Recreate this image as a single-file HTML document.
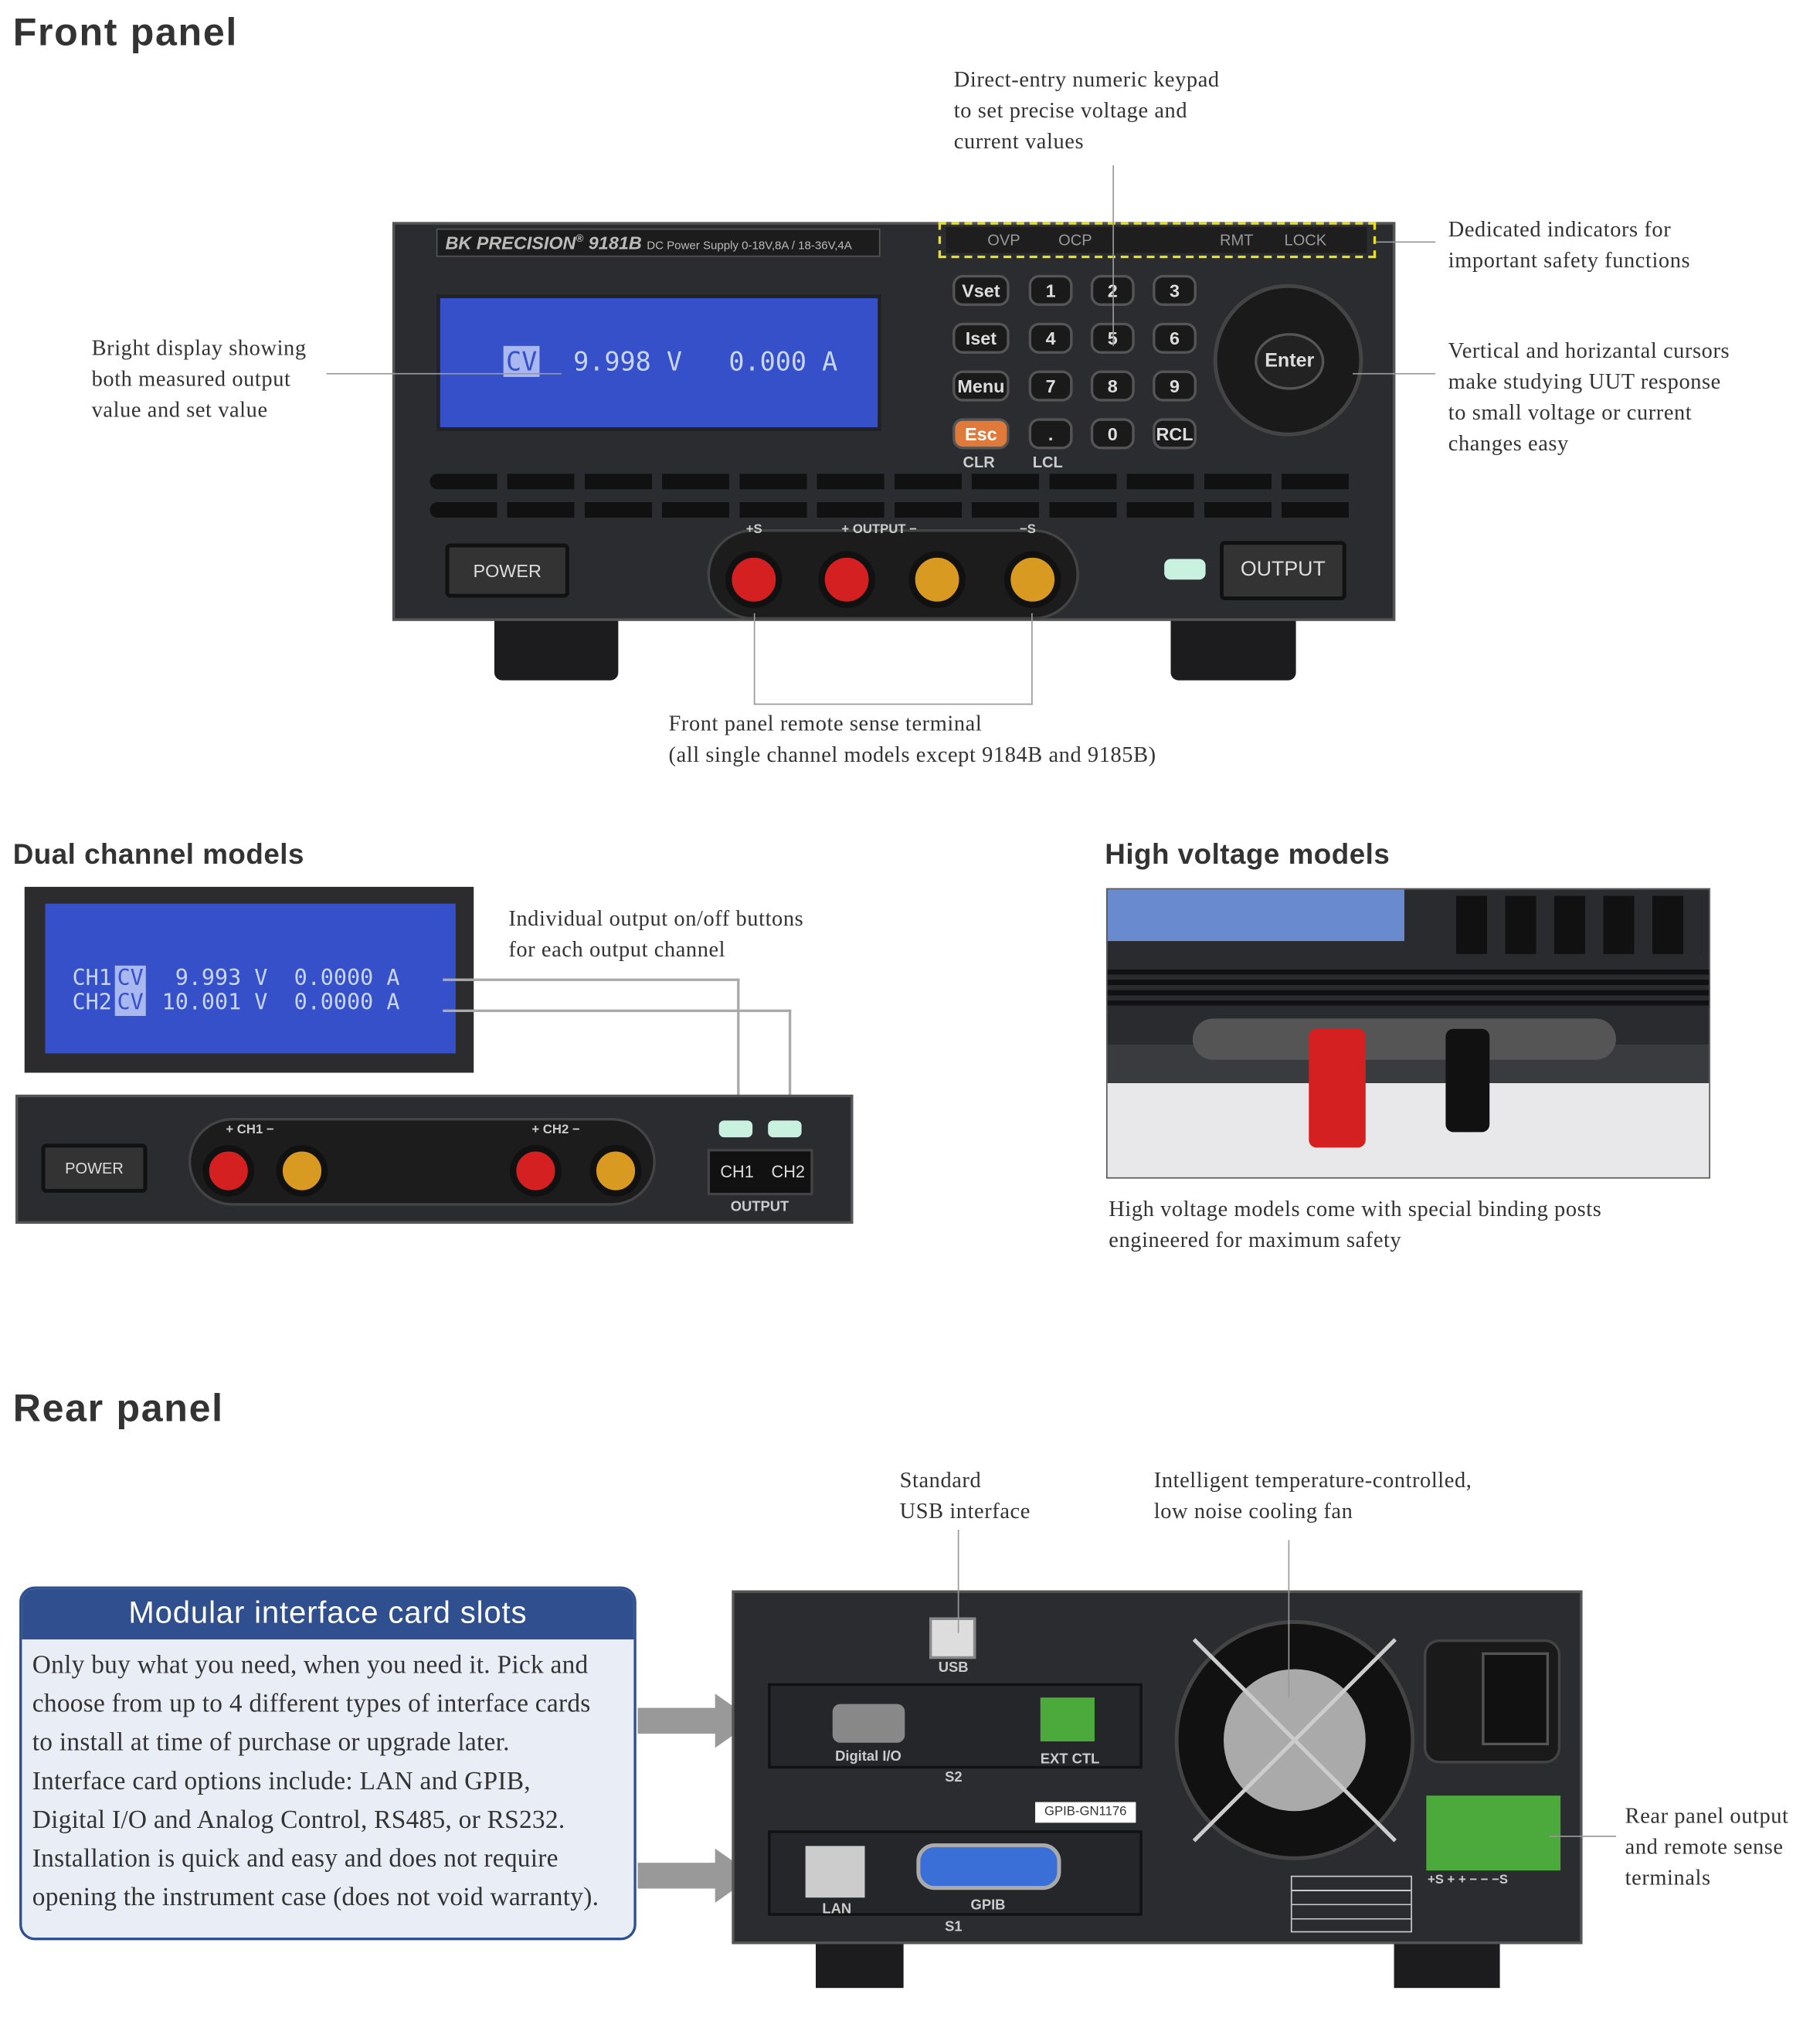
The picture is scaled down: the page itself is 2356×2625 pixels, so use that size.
<!DOCTYPE html>
<html><head><meta charset="utf-8"><style>
*{margin:0;padding:0;box-sizing:border-box}
html,body{width:2356px;height:2624px;background:#fff;overflow:hidden}
#w{position:absolute;left:0;top:0;width:1410px;height:1571px;transform:scale(1.6709);transform-origin:0 0;font-family:"Liberation Serif",serif;color:#333}
.a{position:absolute}
.h{font-family:"Liberation Sans",sans-serif;font-weight:bold;color:#333}
.t{font-size:17px;line-height:24px;color:#333;letter-spacing:0.35px;white-space:nowrap}
.ln{position:absolute;background:#999}
.dev{background:#2b2c2f;border:2px solid #555}
.k{position:absolute;width:34px;height:24px;border-radius:8px;background:#1a1a1a;border:2px solid #555;color:#ddd;font:bold 14px "Liberation Sans",sans-serif;text-align:center;line-height:20px}
.lab{position:absolute;color:#ccc;font:bold 12px "Liberation Sans",sans-serif;white-space:nowrap}
.vent{position:absolute;height:12px;border-radius:6px;background:#111}
.post{position:absolute;width:44px;height:44px;border-radius:50%;border:5px solid #111}
.lcd{font-family:"DejaVu Sans Mono",monospace;color:#c9d6ff;white-space:pre}
.cv{background:#a9b8f0;color:#3550c8;padding:0 2px;margin:0 2px}
</style></head><body><div id="w">

<div class="a h" style="left:10px;top:9px;font-size:30px;letter-spacing:1px">Front panel</div>

<div class="a" style="left:383px;top:478px;width:96px;height:49px;background:#1c1c1e;border-radius:0 0 6px 6px"></div>
<div class="a" style="left:907px;top:478px;width:97px;height:49px;background:#1c1c1e;border-radius:0 0 6px 6px"></div>
<div class="a dev" style="left:304px;top:172px;width:777px;height:309px"></div>
<div class="a" style="left:338px;top:177px;width:344px;height:22px;background:#1c1c1c;border:1px solid #555;color:#bbb;font:italic bold 14px 'Liberation Sans',sans-serif;padding:2px 6px;white-space:nowrap;overflow:hidden">BK PRECISION<sup style="font-size:8px">®</sup> 9181B <span style="font:9px 'Liberation Sans',sans-serif;font-style:normal">DC Power Supply 0-18V,8A / 18-36V,4A</span></div>
<div class="a" style="left:338px;top:228px;width:345px;height:106px;background:#3550c8;border:3px solid #222"></div>
<div class="a lcd" style="left:388px;top:268px;font-size:20px"><span class="cv">CV</span>  9.998 V   0.000 A</div>
<div class="a" style="left:727px;top:172px;width:339px;height:28px;border:2px dashed #e6df2a"></div>
<div class="a" style="left:733px;top:176px;width:326px;height:20px;background:#1e1e1e;color:#999;font:12px 'Liberation Sans',sans-serif;line-height:20px;white-space:nowrap">
<span class="a" style="left:32px">OVP</span><span class="a" style="left:87px">OCP</span><span class="a" style="left:212px">RMT</span><span class="a" style="left:262px">LOCK</span></div>
<div class="k" style="left:738px;top:213px;width:44px">Vset</div>
<div class="k" style="left:738px;top:250px;width:44px">Iset</div>
<div class="k" style="left:738px;top:287px;width:44px">Menu</div>
<div class="k" style="left:738px;top:324px;width:44px;background:#e07a3a;color:#fff">Esc</div>
<div class="k" style="left:797px;top:213px">1</div><div class="k" style="left:845px;top:213px">2</div><div class="k" style="left:893px;top:213px">3</div>
<div class="k" style="left:797px;top:250px">4</div><div class="k" style="left:845px;top:250px">5</div><div class="k" style="left:893px;top:250px">6</div>
<div class="k" style="left:797px;top:287px">7</div><div class="k" style="left:845px;top:287px">8</div><div class="k" style="left:893px;top:287px">9</div>
<div class="k" style="left:797px;top:324px">.</div><div class="k" style="left:845px;top:324px">0</div><div class="k" style="left:893px;top:324px">RCL</div>
<div class="lab" style="left:746px;top:351px">CLR</div><div class="lab" style="left:800px;top:351px">LCL</div>
<div class="a" style="left:940px;top:220px;width:116px;height:118px;border-radius:50%;background:#1a1a1a;border:3px solid #444"></div>
<div class="a" style="left:972px;top:258px;width:54px;height:44px;border-radius:50%;background:#222;border:2px solid #555;color:#ddd;font:bold 15px 'Liberation Sans',sans-serif;text-align:center;line-height:40px">Enter</div>
<div class="vent" style="left:333px;top:367px;width:720px;background:repeating-linear-gradient(90deg,#111 0 52px,#2b2c2f 52px 60px)"></div>
<div class="vent" style="left:333px;top:389px;width:720px;background:repeating-linear-gradient(90deg,#111 0 52px,#2b2c2f 52px 60px)"></div>
<div class="a" style="left:345px;top:421px;width:96px;height:42px;border:3px solid #111;border-radius:4px;background:#333;color:#ddd;font:14px 'Liberation Sans',sans-serif;text-align:center;line-height:36px">POWER</div>
<div class="a" style="left:548px;top:410px;width:288px;height:70px;border-radius:35px;background:#1c1c1c;border:2px solid #444"></div>
<div class="post" style="left:562px;top:427px;background:#d42020"></div>
<div class="post" style="left:634px;top:427px;background:#d42020"></div>
<div class="post" style="left:704px;top:427px;background:#d89a20"></div>
<div class="post" style="left:778px;top:427px;background:#d89a20"></div>
<div class="lab" style="left:578px;top:405px;font-size:10px">+S</div>
<div class="lab" style="left:652px;top:405px;font-size:10px">+ OUTPUT −</div>
<div class="lab" style="left:790px;top:405px;font-size:10px">−S</div>
<div class="a" style="left:902px;top:433px;width:32px;height:16px;border-radius:5px;background:#c8f2df"></div>
<div class="a" style="left:945px;top:419px;width:98px;height:46px;border:3px solid #111;border-radius:4px;background:#333;color:#ddd;font:16px 'Liberation Sans',sans-serif;text-align:center;line-height:40px">OUTPUT</div>

<div class="a t" style="left:739px;top:50px">Direct-entry numeric keypad<br>to set precise voltage and<br>current values</div>
<div class="ln" style="left:862px;top:128px;width:1px;height:140px"></div>
<div class="a t" style="left:1122px;top:166px">Dedicated indicators for<br>important safety functions</div>
<div class="ln" style="left:1066px;top:187px;width:46px;height:1px"></div>
<div class="a t" style="left:71px;top:258px">Bright display showing<br>both measured output<br>value and set value</div>
<div class="ln" style="left:253px;top:289px;width:182px;height:1px"></div>
<div class="a t" style="left:1122px;top:260px">Vertical and horizantal cursors<br>make studying UUT response<br>to small voltage or current<br>changes easy</div>
<div class="ln" style="left:1048px;top:289px;width:64px;height:1px"></div>
<div class="a" style="left:584px;top:475px;width:216px;height:71px;border:1px solid #999;border-top:none"></div>
<div class="a t" style="left:518px;top:549px">Front panel remote sense terminal<br>(all single channel models except 9184B and 9185B)</div>

<div class="a h" style="left:10px;top:649px;font-size:22px;letter-spacing:0.3px">Dual channel models</div>
<div class="a" style="left:19px;top:687px;width:348px;height:144px;background:#2c2c2e"></div>
<div class="a" style="left:35px;top:700px;width:318px;height:116px;background:#3550c8"></div>
<div class="a lcd" style="left:56px;top:749px;font-size:17px;line-height:19px">CH1<span class="cv">CV</span>  9.993 V  0.0000 A
CH2<span class="cv">CV</span> 10.001 V  0.0000 A</div>
<div class="a t" style="left:394px;top:700px">Individual output on/off buttons<br>for each output channel</div>
<div class="a" style="left:343px;top:758px;width:230px;height:112px;border:2px solid #aaa;border-left:none;border-bottom:none"></div>
<div class="a" style="left:343px;top:782px;width:270px;height:88px;border:2px solid #aaa;border-left:none;border-bottom:none"></div>
<div class="a dev" style="left:12px;top:848px;width:649px;height:100px"></div>
<div class="a" style="left:32px;top:886px;width:82px;height:38px;border:3px solid #111;border-radius:4px;background:#333;color:#ddd;font:12px 'Liberation Sans',sans-serif;text-align:center;line-height:32px">POWER</div>
<div class="a" style="left:146px;top:866px;width:362px;height:68px;border-radius:34px;background:#1c1c1c;border:2px solid #444"></div>
<div class="post" style="left:157px;top:887px;background:#d42020;width:40px;height:40px"></div>
<div class="post" style="left:214px;top:887px;background:#d89a20;width:40px;height:40px"></div>
<div class="post" style="left:395px;top:887px;background:#d42020;width:40px;height:40px"></div>
<div class="post" style="left:457px;top:887px;background:#d89a20;width:40px;height:40px"></div>
<div class="lab" style="left:175px;top:870px;font-size:10px">+ CH1 −</div>
<div class="lab" style="left:412px;top:870px;font-size:10px">+ CH2 −</div>
<div class="a" style="left:557px;top:868px;width:26px;height:13px;border-radius:4px;background:#c8f2df"></div>
<div class="a" style="left:595px;top:868px;width:26px;height:13px;border-radius:4px;background:#c8f2df"></div>
<div class="a" style="left:548px;top:890px;width:82px;height:36px;background:#111;border:2px solid #444;color:#ddd;font:13px 'Liberation Sans',sans-serif;line-height:32px;padding-left:8px;word-spacing:10px;white-space:nowrap">CH1 CH2</div>
<div class="lab" style="left:566px;top:929px;font-size:11px">OUTPUT</div>

<div class="a h" style="left:856px;top:649px;font-size:22px;letter-spacing:0.3px">High voltage models</div>
<div class="a" style="left:857px;top:688px;width:468px;height:225px;border:1px solid #555;background:linear-gradient(#2a2b2e 0 120px,#3a3b3e 120px 150px,#e8e8ea 150px);overflow:hidden">
<div class="a" style="left:0;top:0;width:230px;height:40px;background:#6a8ad0"></div>
<div class="a" style="left:270px;top:5px;width:190px;height:45px;background:repeating-linear-gradient(90deg,#111 0 24px,#2a2b2e 24px 38px)"></div>
<div class="a" style="left:0;top:62px;width:468px;height:30px;background:repeating-linear-gradient(#111 0 4px,#2a2b2e 4px 8px)"></div>
<div class="a" style="left:66px;top:100px;width:328px;height:32px;border-radius:16px;background:#555"></div>
<div class="a" style="left:156px;top:108px;width:44px;height:92px;background:#d42020;border-radius:6px"></div>
<div class="a" style="left:262px;top:108px;width:34px;height:80px;background:#111;border-radius:6px"></div>
</div>
<div class="a t" style="left:859px;top:925px">High voltage models come with special binding posts<br>engineered for maximum safety</div>

<div class="a h" style="left:10px;top:1075px;font-size:30px;letter-spacing:1px">Rear panel</div>
<div class="a" style="left:15px;top:1229px;width:478px;height:274px;border:2px solid #2f4f8f;border-radius:12px;background:#e9eef6;overflow:hidden">
<div style="height:39px;background:#2f4f8f;color:#fff;font:24px 'Liberation Sans',sans-serif;text-align:center;line-height:37px;letter-spacing:0.5px">Modular interface card slots</div>
<div style="padding:5px 8px;font-size:20px;line-height:30px;color:#333;white-space:nowrap;letter-spacing:0.15px">Only buy what you need, when you need it. Pick and<br>choose from up to 4 different types of interface cards<br>to install at time of purchase or upgrade later.<br>Interface card options include: LAN and GPIB,<br>Digital I/O and Analog Control, RS485, or RS232.<br>Installation is quick and easy and does not require<br>opening the instrument case (does not void warranty).</div></div>
<svg class="a" style="left:494px;top:1310px" width="95" height="170"><polygon points="0,13 60,13 60,2 90,23 60,44 60,33 0,33" fill="#999"/><polygon points="0,133 60,133 60,122 90,143 60,164 60,153 0,153" fill="#999"/></svg>

<div class="a" style="left:632px;top:1500px;width:68px;height:40px;background:#1c1c1e"></div>
<div class="a" style="left:1080px;top:1500px;width:82px;height:40px;background:#1c1c1e"></div>
<div class="a dev" style="left:567px;top:1232px;width:659px;height:274px;background:#2b2c30"></div>
<div class="a" style="left:720px;top:1253px;width:36px;height:32px;background:#ddd;border:2px solid #888"></div>
<div class="lab" style="left:727px;top:1286px;font-size:11px">USB</div>
<div class="a" style="left:595px;top:1304px;width:290px;height:66px;border:2px solid #111;background:#25262a"></div>
<div class="a" style="left:645px;top:1320px;width:56px;height:30px;border-radius:6px;background:#888"></div>
<div class="lab" style="left:647px;top:1355px;font-size:11px">Digital I/O</div>
<div class="a" style="left:806px;top:1315px;width:42px;height:34px;background:#4caa3c"></div>
<div class="lab" style="left:806px;top:1357px;font-size:11px">EXT CTL</div>
<div class="lab" style="left:732px;top:1371px;font-size:11px">S2</div>
<div class="a" style="left:802px;top:1396px;width:78px;height:16px;background:#fff;font:10px 'Liberation Sans',sans-serif;text-align:center;line-height:16px;color:#333;white-space:nowrap">GPIB-GN1176</div>
<div class="a" style="left:595px;top:1418px;width:290px;height:66px;border:2px solid #111;background:#25262a"></div>
<div class="a" style="left:624px;top:1430px;width:46px;height:40px;background:#ccc"></div>
<div class="lab" style="left:637px;top:1473px;font-size:11px">LAN</div>
<div class="a" style="left:710px;top:1428px;width:112px;height:36px;border-radius:14px;background:#3a6fd8;border:3px solid #aaa"></div>
<div class="lab" style="left:752px;top:1470px;font-size:11px">GPIB</div>
<div class="lab" style="left:732px;top:1487px;font-size:11px">S1</div>
<div class="a" style="left:910px;top:1255px;width:186px;height:186px;border-radius:50%;background:#111;border:3px solid #444"></div>
<div class="a" style="left:948px;top:1293px;width:110px;height:110px;border-radius:50%;background:#aaa"></div>
<svg class="a" style="left:910px;top:1255px" width="186" height="186"><line x1="15" y1="15" x2="171" y2="171" stroke="#ccc" stroke-width="3"/><line x1="171" y1="15" x2="15" y2="171" stroke="#ccc" stroke-width="3"/></svg>
<div class="a" style="left:1103px;top:1270px;width:106px;height:96px;border-radius:12px;background:#1a1a1a;border:2px solid #444"></div>
<div class="a" style="left:1148px;top:1280px;width:52px;height:72px;background:#111;border:2px solid #555"></div>
<div class="a" style="left:1105px;top:1391px;width:104px;height:58px;background:#4caa3c"></div>
<div class="lab" style="left:1106px;top:1451px;font-size:10px">+S + + − − −S</div>
<div class="a" style="left:1000px;top:1453px;width:94px;height:44px;border:1px solid #ccc;background:repeating-linear-gradient(#2b2c30 0 10px,#ccc 10px 11px)"></div>

<div class="a t" style="left:697px;top:1135px">Standard<br>USB interface</div>
<div class="ln" style="left:742px;top:1185px;width:1px;height:80px"></div>
<div class="a t" style="left:894px;top:1135px">Intelligent temperature-controlled,<br>low noise cooling fan</div>
<div class="ln" style="left:998px;top:1193px;width:1px;height:122px"></div>
<div class="a t" style="left:1259px;top:1395px">Rear panel output<br>and remote sense<br>terminals</div>
<div class="ln" style="left:1200px;top:1422px;width:52px;height:1px"></div>
</div></body></html>
